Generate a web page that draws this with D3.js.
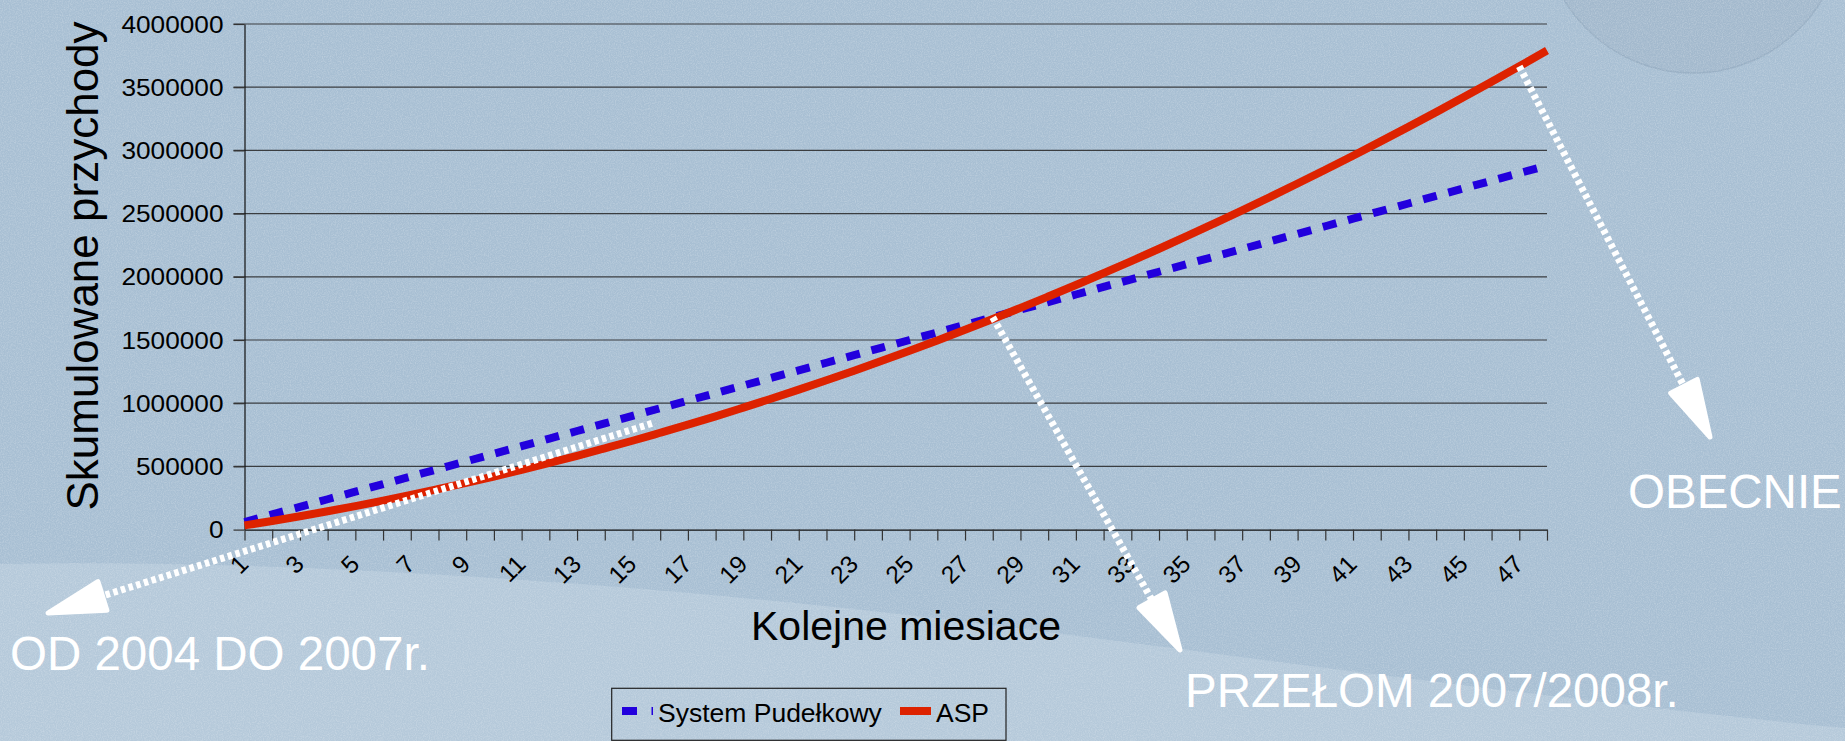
<!DOCTYPE html>
<html>
<head>
<meta charset="utf-8">
<script src="https://cdnjs.cloudflare.com/ajax/libs/d3/7.8.5/d3.min.js"></script>
<style>
    html, body { margin: 0; padding: 0; overflow: hidden; background: #a8bfd3; }
    svg { display: block; font-family: "Liberation Sans", Arial, sans-serif; }
</style>
</head>
<body>
<div id="chart"></div>
<script>
// --- Data ---
const months = [1, 2, 3, 4, 5, 6, 7, 8, 9, 10, 11, 12, 13, 14, 15, 16, 17, 18, 19, 20, 21, 22, 23, 24,
    25, 26, 27, 28, 29, 30, 31, 32, 33, 34, 35, 36, 37, 38, 39, 40, 41, 42, 43, 44, 45, 46, 47, 48];

const systemPudelkowy = [60000, 120000, 180000, 240000, 300000, 360000, 420000, 480000, 540000, 600000,
    660000, 720000, 780000, 840000, 900000, 960000, 1020000, 1080000, 1140000, 1200000,
    1260000, 1320000, 1380000, 1440000, 1500000, 1560000, 1620000, 1680000, 1740000, 1800000,
    1860000, 1920000, 1980000, 2040000, 2100000, 2160000, 2220000, 2280000, 2340000, 2400000,
    2460000, 2520000, 2580000, 2640000, 2700000, 2760000, 2820000, 2880000];

const asp = [33000, 68000, 106000, 145000, 186000, 229000, 274000, 321000, 369000, 420000,
    473000, 528000, 584000, 643000, 703000, 766000, 830000, 896000, 965000, 1035000,
    1107000, 1181000, 1257000, 1335000, 1415000, 1497000, 1581000, 1666000, 1754000, 1844000,
    1935000, 2029000, 2124000, 2222000, 2321000, 2423000, 2526000, 2631000, 2738000, 2847000,
    2958000, 3071000, 3186000, 3303000, 3422000, 3543000, 3665000, 3790000];

const yTicks = [0, 500000, 1000000, 1500000, 2000000, 2500000, 3000000, 3500000, 4000000];
const xLabelMonths = [1, 3, 5, 7, 9, 11, 13, 15, 17, 19, 21, 23, 25, 27, 29, 31, 33, 35, 37, 39, 41, 43, 45, 47];

const seriesNames = ["System Pudełkowy", "ASP"];
const yTitle = "Skumulowane przychody";
const xTitle = "Kolejne miesiace";

// slide annotations: start on the chart (month, value), label text
const notes = [
    { text: "OD 2004 DO 2007r.", month: 15.7, value: 840000 },
    { text: "PRZEŁOM 2007/2008r.", month: 28, value: 1680000 },
    { text: "OBECNIE", month: 47, value: 3665000 }
];

// --- Layout ---
const W = 1845, H = 741;
const plot = { left: 244.5, right: 1547, top: 24, bottom: 529.6 };
const BLUE = "#2200dd", RED = "#dd2200";

const svg = d3.select("#chart").append("svg")
    .attr("width", W)
    .attr("height", H);

const defs = svg.append("defs");
const noise = defs.append("filter").attr("id", "noise")
    .attr("x", 0).attr("y", 0).attr("width", "100%").attr("height", "100%");
noise.append("feTurbulence")
    .attr("type", "fractalNoise").attr("baseFrequency", 0.85)
    .attr("numOctaves", 2).attr("seed", 4);
noise.append("feColorMatrix").attr("type", "matrix")
    .attr("values", "0 0 0 0 1  0 0 0 0 1  0 0 0 0 1  0.45 0 0 0 -0.17");

// Background
svg.append("rect").attr("width", W).attr("height", H).attr("fill", "#a8bfd3");
svg.append("path")
    .attr("d", "M0,564 C300,558 700,588 1000,626 S1600,705 1845,728 L1845,741 L0,741 Z")
    .attr("fill", "#b5c9da");
svg.append("circle")
    .attr("cx", 1693).attr("cy", -77).attr("r", 150)
    .attr("fill", "#a3b9cd")
    .attr("stroke", "#98afc4").attr("stroke-width", 1.5);
svg.append("rect").attr("width", W).attr("height", H).attr("filter", "url(#noise)");

// --- Scales ---
const x = d3.scalePoint().domain(months).range([plot.left, plot.right]);
const xm = d3.scaleLinear().domain([1, 48]).range([plot.left, plot.right]); // for annotations between months
const y = d3.scaleLinear().domain([0, 4000000]).range([plot.bottom, plot.top]);

// Gridlines
svg.append("g")
    .selectAll("line")
    .data(yTicks.filter(d => d > 0))
    .join("line")
    .attr("x1", plot.left - 11).attr("x2", plot.right)
    .attr("y1", d => y(d)).attr("y2", d => y(d))
    .attr("stroke", "#3a3d40").attr("stroke-width", 1.2);

// Y axis
const yAxis = svg.append("g")
    .attr("transform", `translate(${plot.left},0)`)
    .call(d3.axisLeft(y).tickValues(yTicks).tickSize(11).tickSizeOuter(0).tickFormat(d3.format("d")))
    .attr("font-family", null).attr("font-size", null);
yAxis.select(".domain").attr("stroke", "#111").attr("stroke-width", 1.2);
yAxis.selectAll(".tick line").attr("stroke", "#333").attr("stroke-width", 1.2);
yAxis.selectAll(".tick text")
    .attr("x", 0).attr("dy", "0.35em")
    .attr("transform", "translate(-21,0) scale(1.14,1)")
    .attr("text-anchor", "end")
    .attr("font-size", 23)
    .attr("fill", "#000");

// X axis
const xAxis = svg.append("g")
    .attr("transform", `translate(0,${plot.bottom})`)
    .call(d3.axisBottom(x).tickValues(months).tickSize(11).tickSizeOuter(0)
        .tickFormat(d => xLabelMonths.includes(d) ? d : ""))
    .attr("font-family", null).attr("font-size", null);
xAxis.select(".domain").attr("stroke", "#111").attr("stroke-width", 1.2);
xAxis.selectAll(".tick line").attr("stroke", "#333").attr("stroke-width", 1.2);
xAxis.selectAll(".tick text")
    .attr("x", 0).attr("y", 0).attr("dy", 0)
    .attr("transform", "translate(5,36) rotate(-45)")
    .attr("text-anchor", "end")
    .attr("font-size", 24.5)
    .attr("fill", "#000");

// Axis titles
svg.append("text")
    .attr("transform", "translate(98,266) rotate(-90)")
    .attr("text-anchor", "middle")
    .attr("font-size", 44)
    .attr("fill", "#000")
    .text(yTitle);

svg.append("text")
    .attr("x", 906).attr("y", 640)
    .attr("text-anchor", "middle")
    .attr("font-size", 41)
    .attr("fill", "#000")
    .text(xTitle);

// --- Series ---
const line = d3.line()
    .x((d, i) => x(months[i]))
    .y(d => y(d));

svg.append("path")
    .datum(systemPudelkowy)
    .attr("d", line)
    .attr("fill", "none")
    .attr("stroke", BLUE)
    .attr("stroke-width", 8)
    .attr("stroke-dasharray", "14,12");

svg.append("path")
    .datum(asp)
    .attr("d", line.curve(d3.curveMonotoneX))
    .attr("fill", "none")
    .attr("stroke", RED)
    .attr("stroke-width", 8);

// --- Legend ---
const legend = svg.append("g");
legend.append("rect")
    .attr("x", 611.7).attr("y", 688.3).attr("width", 394.3).attr("height", 52)
    .attr("fill", "none").attr("stroke", "#222").attr("stroke-width", 1.2);
legend.append("line")
    .attr("x1", 622).attr("x2", 653).attr("y1", 711).attr("y2", 711)
    .attr("stroke", BLUE).attr("stroke-width", 8).attr("stroke-dasharray", "15,14.5");
legend.append("text")
    .attr("x", 658).attr("y", 721.7)
    .attr("font-size", 26.5).attr("fill", "#000")
    .text(seriesNames[0]);
legend.append("line")
    .attr("x1", 900).attr("x2", 931).attr("y1", 711).attr("y2", 711)
    .attr("stroke", RED).attr("stroke-width", 8);
legend.append("text")
    .attr("x", 936).attr("y", 721.7)
    .attr("font-size", 26.5).attr("fill", "#000")
    .text(seriesNames[1]);

// --- Slide annotations (white dotted arrows + labels) ---
const tips = [[48, 613], [1180, 650], [1710, 437]];
const labelPos = [[10, 670], [1185, 707], [1628, 508]];
const ann = svg.append("g");

notes.forEach((n, i) => {
    const sx = xm(n.month), sy = y(n.value);
    const [tx, ty] = tips[i];
    const len = Math.hypot(tx - sx, ty - sy);
    const ux = (tx - sx) / len, uy = (ty - sy) / len;
    const L = 57, hw = 15;
    const bx = tx - ux * L, by = ty - uy * L;

    ann.append("line")
        .attr("x1", sx).attr("y1", sy).attr("x2", bx).attr("y2", by)
        .attr("stroke", "#fff").attr("stroke-width", 7)
        .attr("stroke-dasharray", "4.5,3.5");

    ann.append("polygon")
        .attr("points", [
            [tx, ty],
            [bx - uy * hw, by + ux * hw],
            [bx + uy * hw, by - ux * hw]
        ].map(p => p.join(",")).join(" "))
        .attr("fill", "#fff")
        .attr("stroke", "#fff").attr("stroke-width", 5).attr("stroke-linejoin", "round");

    ann.append("text")
        .attr("x", labelPos[i][0]).attr("y", labelPos[i][1])
        .attr("font-size", 47.5)
        .attr("fill", "#fff")
        .text(n.text);
});
</script>
</body>
</html>
